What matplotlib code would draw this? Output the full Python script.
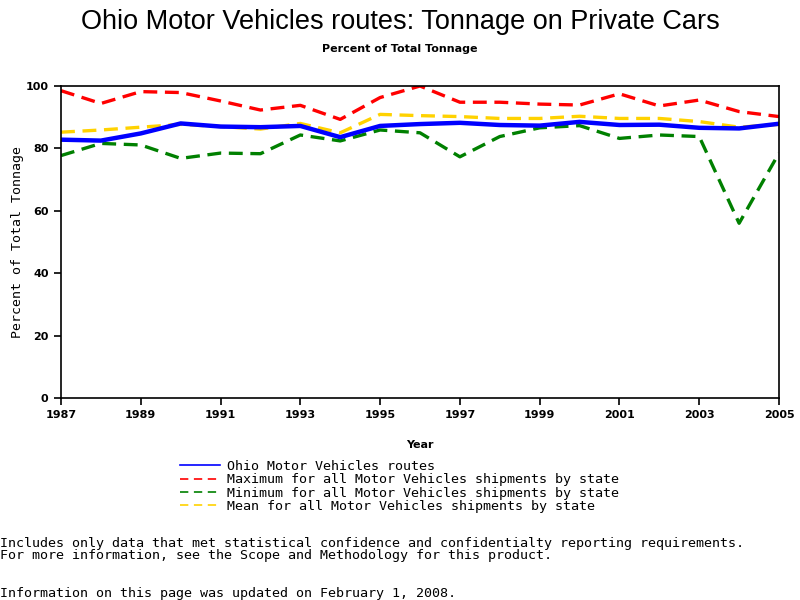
import matplotlib
matplotlib.use('Agg')
import matplotlib.pyplot as plt
from matplotlib.lines import Line2D

years = list(range(1987, 2006))
ohio = [82.8, 82.5, 84.8, 88.0, 87.0, 86.8, 87.2, 83.6, 87.2, 87.8,
        88.2, 87.5, 87.3, 88.5, 87.5, 87.6, 86.6, 86.4, 87.9]
max_state = [98.5, 94.4, 98.2, 97.9, 95.2, 92.3, 93.8, 89.3, 96.3, 100.0,
             94.8, 94.8, 94.2, 93.9, 97.5, 93.6, 95.5, 91.8, 90.2]
min_state = [77.7, 81.6, 81.1, 76.8, 78.5, 78.3, 84.3, 82.4, 85.9, 85.0,
             77.3, 83.8, 86.6, 87.3, 83.2, 84.3, 83.8, 56.0, 78.5]
mean_state = [85.2, 85.9, 86.8, 87.7, 87.0, 86.2, 88.0, 85.0, 90.9, 90.5,
              90.2, 89.6, 89.6, 90.3, 89.6, 89.6, 88.6, 86.8, 87.7]

labels = ['Ohio Motor Vehicles routes',
          'Maximum for all Motor Vehicles shipments by state',
          'Minimum for all Motor Vehicles shipments by state',
          'Mean for all Motor Vehicles shipments by state']
colors = ['#0000ff', '#ff0000', '#008000', '#ffd200']

plt.rcParams['lines.scale_dashes'] = False
mono = 'DejaVu Sans Mono'

fig = plt.figure(figsize=(8, 6), dpi=100)
ax = fig.add_axes([61 / 800, 1 - 398 / 600, 718 / 800, 312 / 600])

dash = [10, 5.5]
ax.plot(years, max_state, color=colors[1], lw=2.4, dashes=dash)
ax.plot(years, min_state, color=colors[2], lw=2.4, dashes=dash)
ax.plot(years, mean_state, color=colors[3], lw=2.4, dashes=dash)
ax.plot(years, ohio, color=colors[0], lw=3.2)

ax.set_xlim(1987, 2005)
ax.set_ylim(0, 100)
ax.set_xticks(range(1987, 2006, 2))
ax.set_yticks(range(0, 101, 20))
ax.tick_params(axis='both', direction='out', length=5, width=1.2,
               labelsize=8, pad=4)
for lab in ax.get_xticklabels() + ax.get_yticklabels():
    lab.set_fontweight('bold')
for sp in ax.spines.values():
    sp.set_linewidth(1.2)

ax.set_xlabel('Year', fontsize=8, fontweight='bold', labelpad=14)
ax.set_ylabel('Percent of Total Tonnage', fontsize=9.5, family=mono,
              va='center')
ax.yaxis.set_label_coords(-43 / 718, 0.5)

fig.text(0.5, 1 - 22 / 600, 'Ohio Motor Vehicles routes: Tonnage on Private Cars',
         ha='center', va='center', fontsize=19.5, family='Liberation Sans')
fig.text(0.5, 1 - 49 / 600, 'Percent of Total Tonnage',
         ha='center', va='center', fontsize=8, fontweight='bold')

handles = [Line2D([], [], color=colors[0], lw=1.2),
           Line2D([], [], color=colors[1], lw=1.2, dashes=[6, 4]),
           Line2D([], [], color=colors[2], lw=1.2, dashes=[6, 4]),
           Line2D([], [], color=colors[3], lw=1.2, dashes=[6, 4])]
fig.legend(handles, labels, loc='upper left',
           bbox_to_anchor=(180 / 800, 1 - 460 / 600), frameon=False,
           prop={'family': mono, 'size': 9.6}, handlelength=3.0,
           handletextpad=0.55, labelspacing=0.02, borderpad=0, borderaxespad=0)

fig.text(0, 1 - 543 / 600,
         'Includes only data that met statistical confidence and confidentialty reporting requirements.',
         ha='left', va='center', fontsize=9.6, family=mono)
fig.text(0, 1 - 556 / 600,
         'For more information, see the Scope and Methodology for this product.',
         ha='left', va='center', fontsize=9.6, family=mono)
fig.text(0, 1 - 593 / 600,
         'Information on this page was updated on February 1, 2008.',
         ha='left', va='center', fontsize=9.6, family=mono)

fig.savefig('out.png', dpi=100)
